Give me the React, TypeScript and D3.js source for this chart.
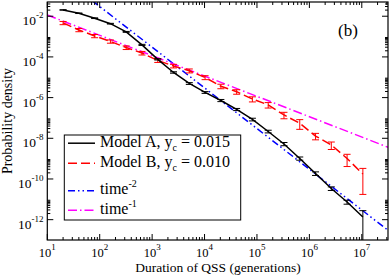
import React from "react";
import * as d3 from "d3";

// ---- data ----
const durations = [20, 40, 80, 160, 320, 640, 1280, 2560, 5120, 10240, 20480, 40960, 81920, 163840, 327680, 655360, 1310720, 2621440, 5242880, 10485760];
const modelA = [2.03e-2, 1.4e-2, 8.0e-3, 4.3e-3, 1.7e-3, 3.9e-4, 7.6e-5, 1.72e-5, 4.94e-6, 1.79e-6, 7.21e-7, 2.61e-7, 8.4e-8, 2.16e-8, 5.25e-9, 1.02e-9, 1.86e-10, 3.4e-11, 7.38e-12, 1.35e-12];
const modelARelErr = [0.03, 0.03, 0.04, 0.04, 0.05, 0.06, 0.07, 0.08, 0.1, 0.1, 0.12, 0.12, 0.15, 0.15, 0.18, 0.18, 0.2, 0.2, 0.22, 1.05];
const modelB = [4.68e-3, 2.11e-3, 1.07e-3, 5.75e-4, 2.88e-4, 1.55e-4, 6.68e-5, 3.59e-5, 2.09e-5, 9.77e-6, 3.63e-6, 1.95e-6, 8.51e-7, 4.37e-7, 1.4e-7, 5.5e-8, 1.29e-8, 4.68e-9, 1.02e-9, 1.74e-10];
const modelBRelErr = [0.18, 0.18, 0.18, 0.18, 0.2, 0.2, 0.2, 0.2, 0.22, 0.22, 0.25, 0.25, 0.28, 0.3, 0.35, 0.5, 0.35, 0.4, 0.6, 0.9];
const powerLawCoef = [300, 0.115]; // time^-2, time^-1 prefactors
const powerLawExp = [-2, -1];
const xMajorExp = [1, 2, 3, 4, 5, 6, 7];
const yMajorExp = [-12, -10, -8, -6, -4, -2];
const yMinorDecades = [-14, -12, -10, -8, -6, -4, -2];
const minorMult = [2, 3, 4, 5, 6, 7, 8, 9];
const legendLabels = ["Model A, y", "Model B, y", "time", "time"];
const legendSub = ["c", "c", "", ""];
const legendTail = [" = 0.015", " = 0.010", "", ""];
const legendSup = ["", "", "-2", "-1"];

const W = 390, H = 276;
const L = 47.3, R = 388, T = 2, B = 240;

export default function App() {
  const x = d3.scaleLog().domain([10, Math.pow(10, 7.5)]).range([L, R]);
  const y = d3.scaleLog().domain([1e-13, 0.05]).range([B, T]);
  const yc = (v: number) => (v <= 1e-13 ? B + 5 : y(v));

  const line = d3.line<[number, number]>().x(d => x(d[0])).y(d => y(d[1]));
  const aPts = durations.map((t, i) => [t, modelA[i]] as [number, number]);
  const bPts = durations.map((t, i) => [t, modelB[i]] as [number, number]);

  const xMinors: number[] = [];
  xMajorExp.forEach(e => minorMult.forEach(k => { const v = k * Math.pow(10, e); if (v < Math.pow(10, 7.5)) xMinors.push(v); }));
  const yMinors: number[] = [];
  yMinorDecades.forEach(e => minorMult.forEach(k => { const v = k * Math.pow(10, e); if (v > 1e-13 && v < 0.05) yMinors.push(v); }));

  const lawLine = (c: number, p: number) => {
    const t0 = 10, t1 = Math.pow(10, 7.5);
    return line([[t0, c * Math.pow(t0, p)], [t1, c * Math.pow(t1, p)]]);
  };

  const errBars = (vals: number[], rel: number[], color: string) =>
    durations.map((t, i) => {
      const v = vals[i], e = v * rel[i];
      const yt = yc(v + e), yb = yc(v - e);
      const cx = x(t);
      return (
        <g key={i} stroke={color} strokeWidth={1}>
          <line x1={cx} x2={cx} y1={yt} y2={yb} />
          <line x1={cx - 3.5} x2={cx + 3.5} y1={yt} y2={yt} />
          {v - e > 1e-13 && <line x1={cx - 3.5} x2={cx + 3.5} y1={yb} y2={yb} />}
        </g>
      );
    });

  const legendStyles = [
    { stroke: "#000", dash: "" },
    { stroke: "#ff0000", dash: "9,4" },
    { stroke: "#0000ff", dash: "7,3,1.5,3,1.5,3" },
    { stroke: "#ff00ff", dash: "9,3,1.5,3" },
  ];
  const legendBase = [146.5, 166.5, 194, 213.5];

  const font = "'Liberation Serif', 'Times New Roman', serif";

  return (
    <svg width={W} height={H} style={{ position: "absolute", left: 0, top: 0, background: "#fff" }} fontFamily={font}>
      <defs>
        <clipPath id="plot"><rect x={L} y={T} width={R - L} height={B - T} /></clipPath>
      </defs>
      <rect x={0} y={0} width={W} height={H} fill="#fff" />
      <g clipPath="url(#plot)">
        <path d={lawLine(powerLawCoef[0], powerLawExp[0]) || ""} fill="none" stroke="#0000ff" strokeWidth={1.5} strokeDasharray="7,3,1.5,3,1.5,3" />
        <path d={lawLine(powerLawCoef[1], powerLawExp[1]) || ""} fill="none" stroke="#ff00ff" strokeWidth={1.5} strokeDasharray="9,3,1.5,3" />
        <path d={line(bPts) || ""} fill="none" stroke="#ff0000" strokeWidth={1.5} strokeDasharray="9,4" />
        {errBars(modelB, modelBRelErr, "#ff0000")}
        <path d={line(aPts) || ""} fill="none" stroke="#000" strokeWidth={1.5} />
        {errBars(modelA, modelARelErr, "#000")}
      </g>
      {/* frame */}
      <rect x={L} y={T} width={R - L} height={B - T} fill="none" stroke="#000" strokeWidth={1.2} />
      {/* ticks */}
      <g stroke="#000" strokeWidth={1}>
        {xMajorExp.map(e => {
          const px = x(Math.pow(10, e));
          return <g key={"xm" + e}><line x1={px} x2={px} y1={B} y2={B - 6} /><line x1={px} x2={px} y1={T} y2={T + 6} /></g>;
        })}
        {xMinors.map((v, i) => {
          const px = x(v);
          return <g key={"xn" + i}><line x1={px} x2={px} y1={B} y2={B - 3} /><line x1={px} x2={px} y1={T} y2={T + 3} /></g>;
        })}
        {yMajorExp.map(e => {
          const py = y(Math.pow(10, e));
          return <g key={"ym" + e}><line x1={L} x2={L + 6} y1={py} y2={py} /><line x1={R} x2={R - 6} y1={py} y2={py} /></g>;
        })}
        {yMinors.map((v, i) => {
          const py = y(v);
          return <g key={"yn" + i}><line x1={L} x2={L + 3} y1={py} y2={py} /><line x1={R} x2={R - 3} y1={py} y2={py} /></g>;
        })}
      </g>
      {/* tick labels */}
      {xMajorExp.map(e => (
        <text key={"xl" + e} x={x(Math.pow(10, e))} y={257} textAnchor="middle" fontSize={12.5}>
          10<tspan dy={-7} fontSize={9}>{e}</tspan>
        </text>
      ))}
      {yMajorExp.map(e => (
        <text key={"yl" + e} x={43.5} y={y(Math.pow(10, e)) + 9} textAnchor="end" fontSize={13.5}>
          10<tspan dy={-7} fontSize={9}>{e}</tspan>
        </text>
      ))}
      <text x={218} y={272} textAnchor="middle" fontSize={13.5}>Duration of QSS (generations)</text>
      <text transform={`translate(12, ${(T + B) / 2}) rotate(-90)`} textAnchor="middle" fontSize={14}>Probability density</text>
      <text x={348} y={36} textAnchor="middle" fontSize={17}>(b)</text>
      {/* legend */}
      <rect x={64.3} y={135} width={176.4} height={85} fill="#fff" stroke="#000" strokeWidth={1} />
      {legendLabels.map((lab, i) => (
        <g key={"lg" + i}>
          <line x1={68} x2={95} y1={legendBase[i] - 3.3} y2={legendBase[i] - 3.3} stroke={legendStyles[i].stroke} strokeWidth={1.5} strokeDasharray={legendStyles[i].dash} />
          <text x={100} y={legendBase[i]} fontSize={16}>
            {lab}
            {legendSub[i] && <tspan dy={4} fontSize={10}>{legendSub[i]}</tspan>}
            {legendTail[i] && <tspan dy={-4}>{legendTail[i]}</tspan>}
            {legendSup[i] && <tspan dy={-7} fontSize={10}>{legendSup[i]}</tspan>}
          </text>
        </g>
      ))}
    </svg>
  );
}
